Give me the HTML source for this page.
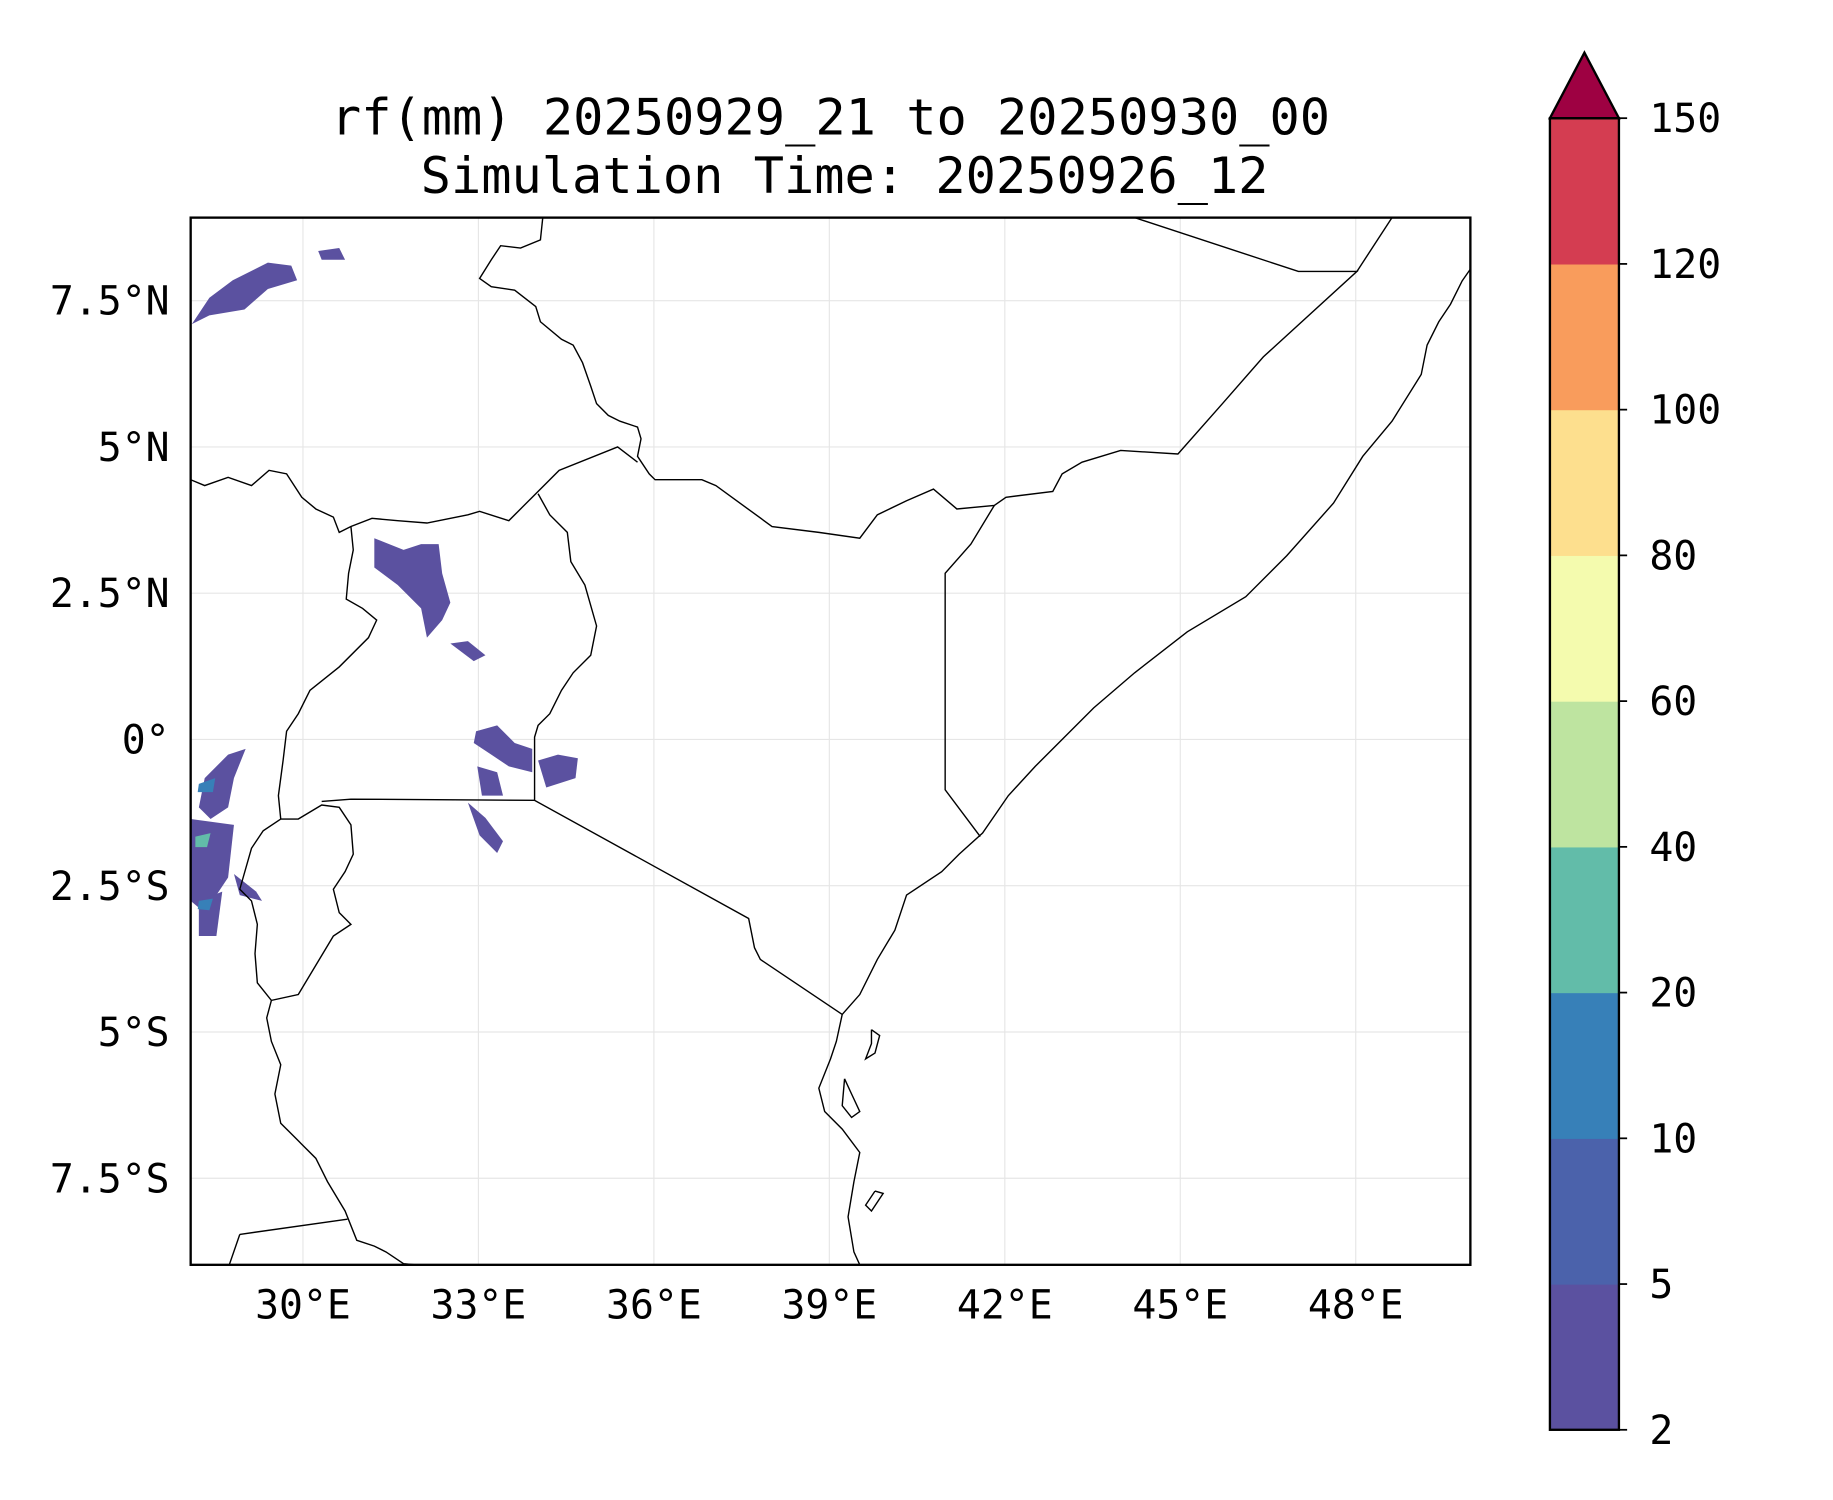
<!DOCTYPE html>
<html><head><meta charset="utf-8"><style>
html,body{margin:0;padding:0;background:#fff}
svg{display:block}
text{font-family:"DejaVu Sans Mono","Liberation Mono",monospace;fill:#000}
</style></head><body>
<svg id="chart" width="1833" height="1500" viewBox="0 0 1567 1282" preserveAspectRatio="none" xmlns="http://www.w3.org/2000/svg">
<rect width="1567" height="1282" fill="#fff"/>
<g>
<text x="710" y="115" font-size="43" text-anchor="middle">rf(mm) 20250929_21 to 20250930_00</text>
<text x="722" y="165" font-size="43" text-anchor="middle">Simulation Time: 20250926_12</text>
</g>
<defs><clipPath id="clip"><rect x="163" y="186" width="1094" height="895"/></clipPath></defs>
<g id="grid"></g>
<g id="rain" clip-path="url(#clip)"></g>
<g id="coast" clip-path="url(#clip)" fill="none" stroke="#000" stroke-width="1.2"></g>
<rect x="163" y="186" width="1094" height="895" fill="none" stroke="#000" stroke-width="2"/>
<g id="axes"></g>
<g id="cbar"></g>
</svg>
<script>
const NS='http://www.w3.org/2000/svg';
const lonTicks=[30,33,36,39,42,45,48];
const lonLabels=['30°E','33°E','36°E','39°E','42°E','45°E','48°E'];
const latTicks=[7.5,5,2.5,0,-2.5,-5,-7.5];
const latLabels=['7.5°N','5°N','2.5°N','0°','2.5°S','5°S','7.5°S'];
const levels=[2,5,10,20,40,60,80,100,120,150];
const levelColors=['#5b51a0','#4b62ab','#3780b8','#62bca9','#bee4a0','#f4fbae','#fddf8e','#f99c5c','#d43d51'];
const extendColor='#9e0142';
const rainLevels=[0,0,0,0,0,0,0,0,0,0,0,0,2,3,2];
const rainShapes=[
[[28.1,7.1],[28.4,7.55],[28.8,7.85],[29.4,8.15],[29.8,8.1],[29.9,7.85],[29.4,7.7],[29.0,7.35],[28.4,7.25]],
[[30.26,8.35],[30.62,8.4],[30.72,8.2],[30.32,8.2]],
[[31.22,3.44],[31.72,3.24],[32.02,3.34],[32.32,3.34],[32.38,2.84],[32.52,2.34],[32.38,2.04],[32.12,1.74],[32.02,2.24],[31.62,2.64],[31.22,2.94]],
[[32.52,1.64],[32.82,1.68],[33.12,1.44],[32.92,1.34]],
[[32.96,0.14],[33.32,0.24],[33.62,-0.06],[33.92,-0.16],[33.92,-0.56],[33.52,-0.46],[33.22,-0.26],[32.92,-0.06]],
[[32.98,-0.46],[33.32,-0.56],[33.42,-0.96],[33.06,-0.96]],
[[34.02,-0.36],[34.36,-0.26],[34.7,-0.32],[34.66,-0.66],[34.16,-0.82]],
[[32.82,-1.08],[33.12,-1.34],[33.42,-1.74],[33.32,-1.94],[33.02,-1.64]],
[[28.32,-0.66],[28.72,-0.26],[29.02,-0.16],[28.82,-0.66],[28.72,-1.16],[28.42,-1.36],[28.22,-1.16]],
[[28.08,-1.36],[28.82,-1.46],[28.72,-2.36],[28.32,-2.96],[28.08,-2.76]],
[[28.22,-2.76],[28.62,-2.6],[28.52,-3.36],[28.22,-3.36]],
[[28.82,-2.3],[29.2,-2.6],[29.3,-2.76],[28.92,-2.66]],
[[28.22,-0.76],[28.5,-0.66],[28.46,-0.9],[28.2,-0.9]],
[[28.16,-1.66],[28.42,-1.6],[28.36,-1.84],[28.16,-1.84]],
[[28.22,-2.76],[28.46,-2.72],[28.4,-2.92],[28.2,-2.9]]
];
const coastLines=[
[[464,186],[462,205],[445,212],[428,210],[420,222],[410,238],[420,245],[440,248],[458,262],[462,275],[480,290],[490,295],[498,310],[505,330],[510,345],[520,355],[530,360],[545,365],[548,375],[545,390],[555,405],[560,410],[600,410],[612,415],[660,450],[700,455],[735,460],[750,440],[775,428],[798,418],[818,435],[850,432],[860,425],[900,420],[908,405],[925,395],[958,385],[1007,388],[1045,345],[1080,305],[1160,232],[1110,232],[970,186]],
[[1160,232],[1190,186]],
[[163,410],[175,415],[195,408],[215,415],[230,402],[245,405],[258,425],[270,435],[285,442],[290,455],[300,450],[318,443],[340,445],[365,447],[400,440],[410,437],[435,445],[478,402],[528,382],[545,395]],
[[460,422],[470,440],[485,455],[488,480],[500,500],[510,535],[505,560],[490,575],[480,590],[470,610],[460,620],[457,630],[457,684],[640,785],[645,810],[650,820],[720,867]],
[[850,432],[830,465],[808,490],[808,675],[838,715]],
[[300,450],[302,470],[298,490],[296,512],[310,520],[322,530],[315,545],[290,570],[265,590],[255,610],[245,625],[242,650],[238,680],[240,700]],
[[275,685],[300,683],[457,684]],
[[240,700],[225,710],[215,725],[205,760],[215,770],[220,790],[218,815],[220,840],[232,855],[255,850],[270,825],[285,800],[300,790],[290,780],[285,760],[295,745],[302,730],[300,705],[290,690],[275,688],[255,700],[240,700]],
[[232,855],[228,870],[232,890],[240,910],[235,935],[240,960],[255,975],[270,990],[280,1010],[295,1035],[305,1060],[320,1065],[330,1070],[345,1080],[355,1081]],
[[205,1055],[297,1042]],[[205,1055],[196,1081]],
[[1257,230],[1250,240],[1240,260],[1230,275],[1220,295],[1215,320],[1190,360],[1165,390],[1140,430],[1100,475],[1065,510],[1015,540],[970,575],[935,605],[910,630],[885,655],[862,680],[840,712],[820,730],[805,745],[775,765],[765,795],[750,820],[735,850],[720,867],[715,890],[710,905],[700,930],[705,950],[720,965],[735,985],[730,1010],[725,1040],[730,1070],[735,1081]],
[[745,880],[752,885],[748,900],[740,905],[745,892],[745,880]],
[[722,922],[728,935],[735,950],[728,955],[720,945],[722,922]],
[[748,1018],[755,1020],[745,1035],[740,1030],[748,1018]]
];
const X=lon=>259+(lon-30)*50, Y=lat=>632-lat*50;
function mk(tag,attrs,parent){const e=document.createElementNS(NS,tag);for(const k in attrs)e.setAttribute(k,attrs[k]);parent.appendChild(e);return e;}
const grid=document.getElementById('grid'),axes=document.getElementById('axes');
lonTicks.forEach((v,i)=>{
 const l=mk('line',{x1:X(v),x2:X(v),y1:186,y2:1081,stroke:'#e6e6e6','stroke-width':1},grid);
 
 
 const t=mk('text',{x:X(v),y:1127,'font-size':34,'text-anchor':'middle'},axes);
 t.textContent=lonLabels[i];
 
 
});
latTicks.forEach((v,i)=>{
 const l=mk('line',{x1:163,x2:1257,y1:Y(v),y2:Y(v),stroke:'#e6e6e6','stroke-width':1},grid);
 
 
 const t=mk('text',{x:145,y:Y(v)+12,'font-size':34,'text-anchor':'end'},axes);
 t.textContent=latLabels[i];
 
 
});
const rain=document.getElementById('rain');
rainShapes.forEach((s,i)=>{
 const p=mk('polygon',{points:s.map(q=>X(q[0])+','+Y(q[1])).join(' '),fill:levelColors[rainLevels[i]]},rain);
 
 
});
const coast=document.getElementById('coast');
coastLines.forEach(c=>{
 const p=mk('polyline',{points:c.map(q=>q.join(',')).join(' ')},coast);
 
 
});
const cb=document.getElementById('cbar');
const cx=1325,cw=59,ctop=101,cbot=1222,seg=(cbot-ctop)/(levels.length-1);
levelColors.forEach((c,i)=>{
 const r=mk('rect',{x:cx,y:cbot-(i+1)*seg,width:cw,height:seg+0.5,fill:c},cb);
 
 
});
const tri=mk('polygon',{points:`${cx},${ctop} ${cx+cw/2},45 ${cx+cw},${ctop}`,fill:extendColor,stroke:'#000','stroke-width':2},cb);


const fr=mk('rect',{x:cx,y:ctop,width:cw,height:cbot-ctop,fill:'none',stroke:'#000','stroke-width':2},cb);


levels.forEach((v,i)=>{
 const y=cbot-i*seg;
 mk('line',{x1:cx+cw,x2:cx+cw+7,y1:y,y2:y,stroke:'#000','stroke-width':1.5},cb);
 const t=mk('text',{x:1410,y:y+12,'font-size':34},cb);
 t.textContent=v;
 
 
});
</script>
</body></html>
